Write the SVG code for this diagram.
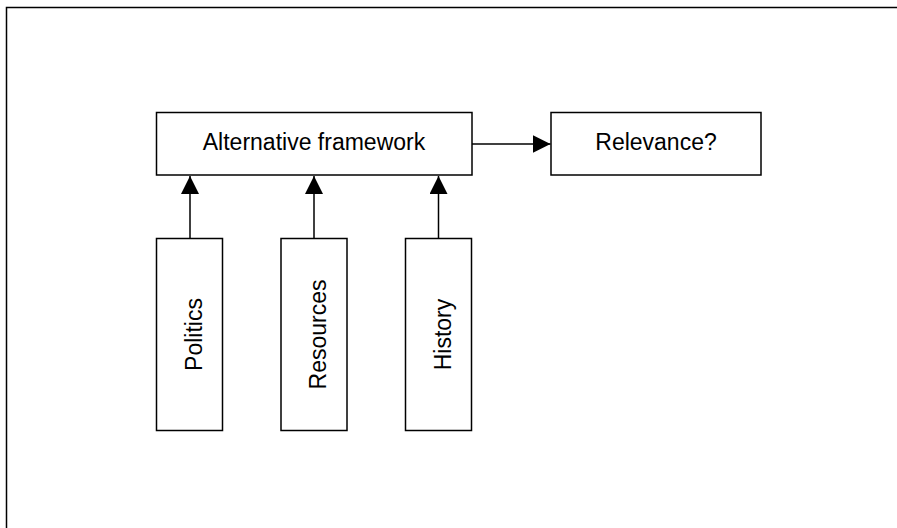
<svg xmlns="http://www.w3.org/2000/svg" width="897" height="528" viewBox="0 0 897 528">
<style>
.box{fill:#fff;stroke:#000;stroke-width:1.5}
.lbl{font-family:"Liberation Sans",Arial,sans-serif;font-size:23px;fill:#000;text-anchor:middle}
.conn{stroke:#000;stroke-width:1.5;fill:none}
</style>
<defs>
<marker id="arr" markerUnits="userSpaceOnUse" markerWidth="18" markerHeight="18" refX="18" refY="9" orient="auto">
<path d="M0,0 L18,9 L0,18 Z" fill="#000"/>
</marker>
</defs>
<rect x="0" y="0" width="897" height="528" fill="#fff"/>
<path d="M6.5,530 V7.5 H900" fill="none" stroke="#000" stroke-width="1.5"/>
<g id="alt">
<rect class="box" x="156.5" y="112.5" width="315.5" height="62.5"/>
<text class="lbl" x="314" y="149.5">Alternative framework</text>
</g>
<g id="relevance">
<rect class="box" x="551" y="112.5" width="210" height="62.5"/>
<text class="lbl" x="656" y="149.5">Relevance?</text>
</g>
<g id="politics">
<rect class="box" x="156.5" y="238.5" width="66" height="192"/>
<text class="lbl" transform="translate(189.5,334.5) rotate(-90)" x="0" y="12">Politics</text>
</g>
<g id="resources">
<rect class="box" x="281" y="238.5" width="66" height="192"/>
<text class="lbl" transform="translate(314,334.5) rotate(-90)" x="0" y="12">Resources</text>
</g>
<g id="history">
<rect class="box" x="405.5" y="238.5" width="66" height="192"/>
<text class="lbl" transform="translate(438.5,334.5) rotate(-90)" x="0" y="12">History</text>
</g>
<g id="connectors">
<line class="conn" x1="190" y1="238.5" x2="190" y2="176" marker-end="url(#arr)"/>
<line class="conn" x1="314" y1="238.5" x2="314" y2="176" marker-end="url(#arr)"/>
<line class="conn" x1="438.5" y1="238.5" x2="438.5" y2="176" marker-end="url(#arr)"/>
<line class="conn" x1="472" y1="144" x2="550.5" y2="144" marker-end="url(#arr)"/>
</g>
</svg>
